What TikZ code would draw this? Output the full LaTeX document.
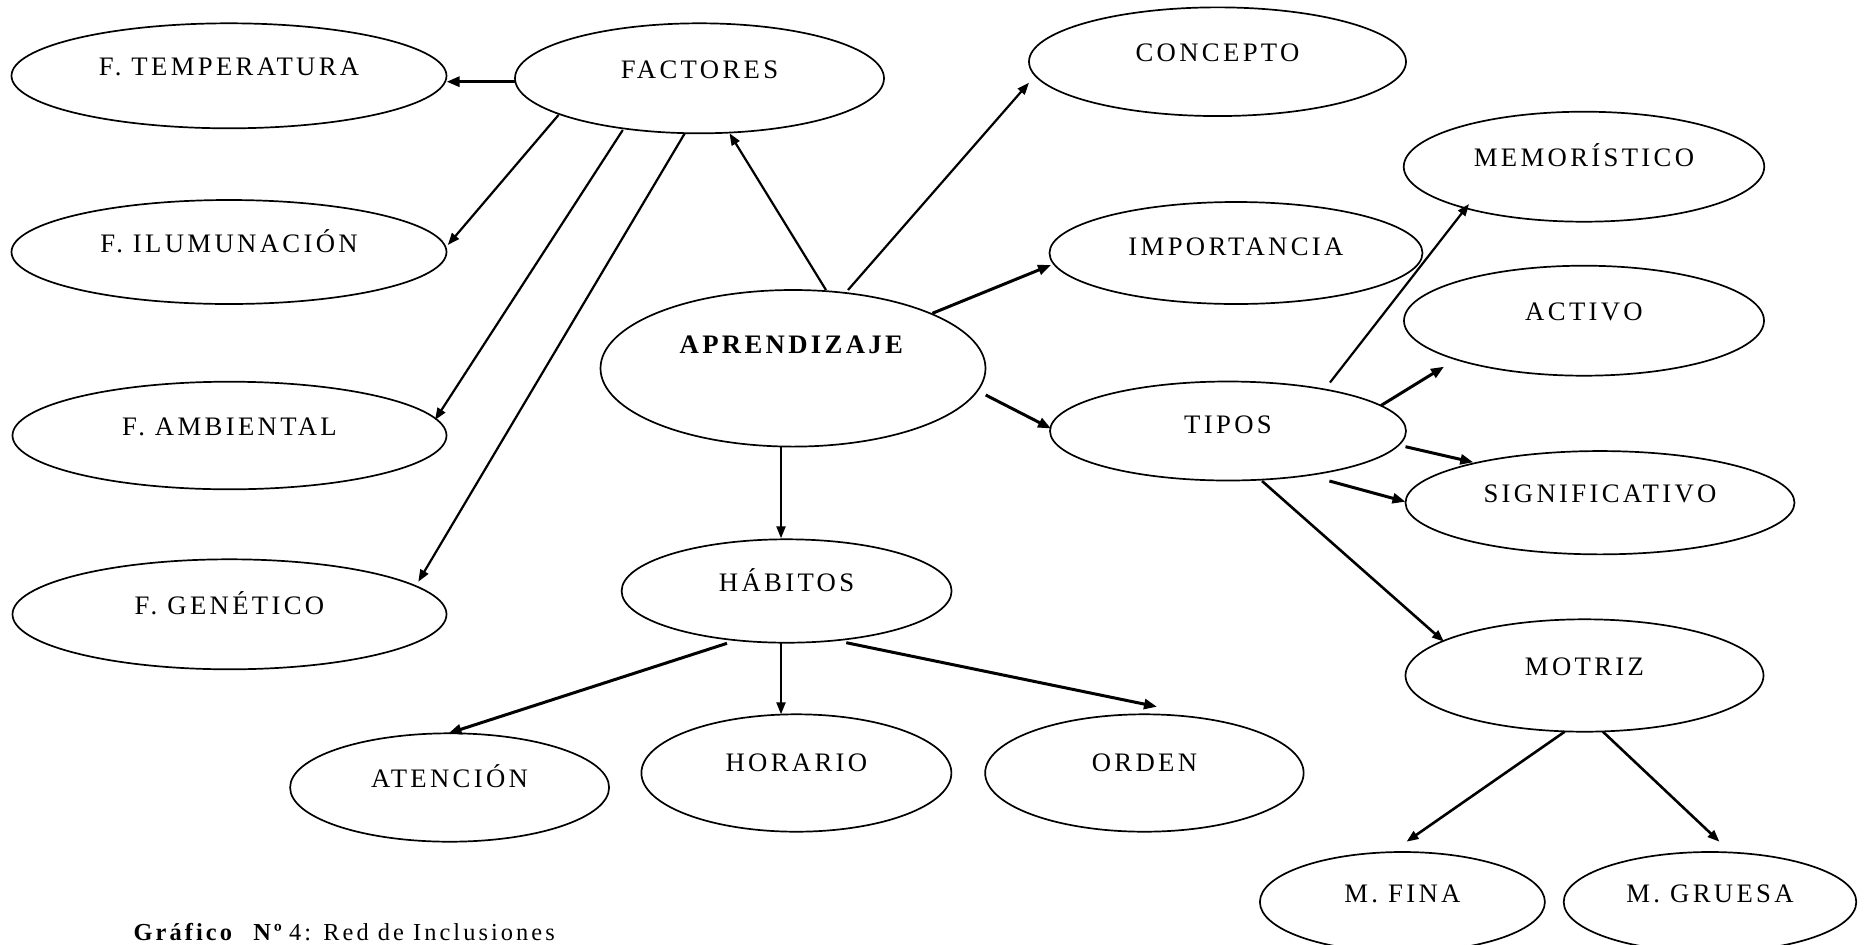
\documentclass[tikz,border=0pt]{standalone}
\usepackage{fontspec}
\setmainfont{Liberation Serif}[LetterSpace=12.5]
\usetikzlibrary{shapes.geometric,arrows.meta}
\tikzset{
  ell/.style={draw, ellipse, line width=0.85pt, inner sep=0pt, text height=5pt, text depth=5pt, font=\fontsize{13.35}{16}\selectfont},
  arr/.style={line width=1.1pt, -{Triangle[length=6pt,width=4.5pt]}},
  arrthick/.style={line width=1.5pt, -{Triangle[length=6.5pt,width=5pt]}},
  arrmid/.style={line width=1.3pt, -{Triangle[length=6pt,width=4.5pt]}},
  captxt/.style={anchor=base west, inner sep=0pt, font=\fontsize{12.2}{14}\selectfont}
}
\begin{document}
\begin{tikzpicture}[x=0.5pt,y=-0.5pt]
\fill[white] (0,0) rectangle (1865,944);
\useasboundingbox (0,0) rectangle (1865,944);
% nodes
\node[ell, minimum width=217.5pt, minimum height=52.5pt] (temp) at (229,75.8) {F. TEMPERATURA};
\node[ell, minimum width=184.5pt, minimum height=55pt] (fac) at (699.5,78.3) {FACTORES};
\node[ell, minimum width=217.5pt, minimum height=52pt] (ilum) at (229,252) {F. ILUMUNACIÓN};
\node[ell, minimum width=217pt, minimum height=53.8pt] (amb) at (229.5,435.5) {F. AMBIENTAL};
\node[ell, minimum width=217pt, minimum height=55pt] (gen) at (229.5,614.3) {F. GENÉTICO};
\node[ell, minimum width=188.5pt, minimum height=54.35pt] (con) at (1217.5,61.7) {CONCEPTO};
\node[ell, minimum width=180.25pt, minimum height=55pt] (mem) at (1584,166.7) {MEMORÍSTICO};
\node[ell, minimum width=186.5pt, minimum height=51pt, text height=7pt] (imp) at (1236,253) {IMPORTANCIA};
\node[ell, minimum width=180pt, minimum height=55pt] (act) at (1584,320.7) {ACTIVO};
\node[ell, minimum width=192.5pt, minimum height=78.3pt, text height=4pt, text depth=19pt] (apr) at (793,368.3) {\textbf{APRENDIZAJE}};
\node[ell, minimum width=178pt, minimum height=49.5pt, text height=7.25pt] (tip) at (1228,431) {TIPOS};
\node[ell, minimum width=194.5pt, minimum height=51.65pt] (sig) at (1600,502.7) {SIGNIFICATIVO};
\node[ell, minimum width=179pt, minimum height=56.2pt] (mot) at (1584.5,675.5) {MOTRIZ};
\node[ell, minimum width=165pt, minimum height=51.7pt] (hab) at (786.6,591) {HÁBITOS};
\node[ell, minimum width=159.5pt, minimum height=54.2pt] (ate) at (449.6,787.5) {ATENCIÓN};
\node[ell, minimum width=155pt, minimum height=58.7pt, text depth=6.2pt] (hor) at (796.4,773) {HORARIO};
\node[ell, minimum width=159.25pt, minimum height=58.7pt, text depth=6.2pt] (ord) at (1144.4,773) {ORDEN};
\node[ell, minimum width=142.5pt, minimum height=50pt] (mfi) at (1402.4,902) {M. FINA};
\node[ell, minimum width=146.3pt, minimum height=50pt] (mgr) at (1710,902) {M. GRUESA};
\node[captxt] (cap) at (133.3,940.5) {\textbf{Gráfico}\ \ \textbf{Nº}\,4: Red de Inclusiones};
% connectors
\draw[arrthick] ([shift={(-184.5,3.4)}]fac.center) -- ([shift={(217.6,5.9)}]temp.center);
\draw[arr] ([shift={(-141,36.7)}]fac.center) -- ([shift={(218.8,-7)}]ilum.center);
\draw[arr] ([shift={(-76.7,51.7)}]fac.center) -- ([shift={(205.5,-15.5)}]amb.center);
\draw[arr] ([shift={(-14.7,55)}]fac.center) -- ([shift={(188.8,-32.6)}]gen.center);
\draw[arr] ([shift={(33,-78.3)}]apr.center) -- ([shift={(30,55)}]fac.center);
\draw[arr] ([shift={(55,-78.3)}]apr.center) -- ([shift={(-188.5,21)}]con.center);
\draw[arrthick] ([shift={(139.4,-55)}]apr.center) -- ([shift={(-185,12)}]imp.center);
\draw[arrthick] ([shift={(192.7,26.7)}]apr.center) -- ([shift={(-177,-2.5)}]tip.center);
\draw[arr] ([shift={(-12,78.4)}]apr.center) -- ([shift={(-5.6,-52.7)}]hab.center);
\draw[arr] ([shift={(102,-48.5)}]tip.center) -- ([shift={(-115,37.3)}]mem.center);
\draw[arrthick] ([shift={(153,-25.5)}]tip.center) -- ([shift={(-140,46)}]act.center);
\draw[arrthick] ([shift={(177.5,15.7)}]tip.center) -- ([shift={(-126.7,-40.4)}]sig.center);
\draw[arrthick] ([shift={(101.4,50)}]tip.center) -- ([shift={(-194.5,-1)}]sig.center);
\draw[arrmid] ([shift={(34,50)}]tip.center) -- ([shift={(-140.5,-33.8)}]mot.center);
\draw[arrthick] ([shift={(-59.6,52.3)}]hab.center) -- ([shift={(-1.1,-54.2)}]ate.center);
\draw[arr] ([shift={(-5.6,51.7)}]hab.center) -- ([shift={(-15.4,-58.7)}]hor.center);
\draw[arrthick] ([shift={(59.7,51.7)}]hab.center) -- ([shift={(12.6,-66.3)}]ord.center);
\draw[arrmid] ([shift={(-19.8,56.2)}]mot.center) -- ([shift={(4.1,-60.3)}]mfi.center);
\draw[arrmid] ([shift={(18.4,56.2)}]mot.center) -- ([shift={(9.5,-60.3)}]mgr.center);
\end{tikzpicture}
\end{document}
